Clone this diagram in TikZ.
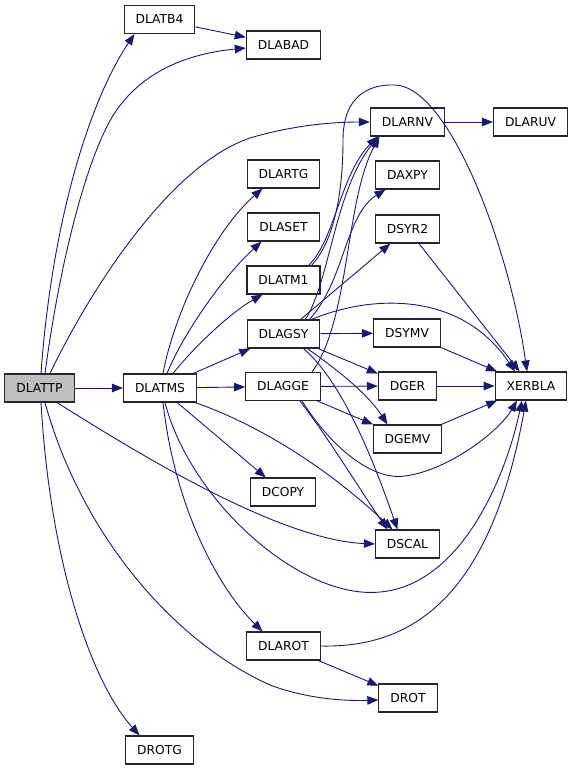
\documentclass[tikz,border=0pt]{standalone}
\usepackage{fontspec}
\setmainfont{DejaVu Sans}
\usetikzlibrary{arrows.meta}
\definecolor{edgeblue}{RGB}{25,25,112}
\definecolor{rootgray}{RGB}{191,191,191}

\begin{document}
\begin{tikzpicture}[x=1pt, y=-1pt,
  fn/.style={draw=black!85, line width=1.1pt, fill=white, minimum height=28pt, inner xsep=11.5pt,
    font=\fontsize{12.3pt}{14pt}\selectfont},
  call/.style={draw=edgeblue, line width=0.9pt, -{Triangle[length=11pt,width=8.5pt]}}]
\useasboundingbox (0,0) rectangle (573,771);

\node[fn, fill=rootgray] (tp) at (39.5,388) {DLATTP};
\node[fn] (tms) at (160,388) {DLATMS};
\node[fn] (tb4) at (159.5,19.5) {DLATB4};
\node[fn] (bad) at (283.5,45) {DLABAD};
\node[fn] (rnv) at (407.5,122) {DLARNV};
\node[fn] (ruv) at (530.5,122) {DLARUV};
\node[fn] (rtg) at (283.5,174) {DLARTG};
\node[fn] (axpy) at (407.5,175) {DAXPY};
\node[fn] (set) at (283.5,227) {DLASET};
\node[fn] (syr2) at (407.5,229) {DSYR2};
\node[fn] (tm1) at (283.5,280) {DLATM1};
\node[fn] (gsy) at (283.5,334) {DLAGSY};
\node[fn] (symv) at (407,333) {DSYMV};
\node[fn] (gge) at (283,386.5) {DLAGGE};
\node[fn] (ger) at (407.5,386) {DGER};
\node[fn] (xer) at (531,386) {XERBLA};
\node[fn] (gemv) at (407.5,439) {DGEMV};
\node[fn] (copy) at (283,492) {DCOPY};
\node[fn] (scal) at (407.5,544) {DSCAL};
\node[fn] (rot) at (283.5,646) {DLAROT};
\node[fn] (drot) at (408,698) {DROT};
\node[fn] (rotg) at (159.5,750) {DROTG};

% straight calls
\foreach \a/\b in {tp/tms, tms/gsy, tms/gge, tms/copy, tb4/bad, rnv/ruv, gsy/syr2, gsy/symv,
  gsy/ger, gge/ger, gge/gemv, symv/xer, syr2/xer, ger/xer, gemv/xer, rot/drot}
  \draw[call] (\a) -- (\b);

% DLATTP
\draw[call] ([xshift=1.5pt]tp.north) .. controls (52,220) and (90,100) .. ([xshift=-25pt]tb4.south);
\draw[call] ([xshift=5.5pt]tp.north) .. controls (60,260) and (90,140) .. (122,103)
  .. controls (155,62) and (205,52) .. ([yshift=-3pt]bad.west);
\draw[call] ([xshift=10.5pt]tp.north) .. controls (90,290) and (170,165) .. (250,138)
  .. controls (290,126) and (330,122) .. (rnv.west);
\draw[call] ([xshift=17.5pt]tp.south) .. controls (140,455) and (280,540) .. (scal.west);
\draw[call] ([xshift=5.5pt]tp.south) .. controls (80,530) and (170,640) .. (270,685)
  .. controls (310,700) and (350,701) .. ([yshift=-2pt]drot.west);
\draw[call] ([xshift=1.5pt]tp.south) .. controls (50,560) and (90,680) .. ([xshift=-20pt]rotg.north);

% DLATMS
\draw[call] ([xshift=3pt]tms.north) .. controls (175,310) and (215,230) .. ([xshift=-21pt]rtg.south);
\draw[call] ([xshift=7pt]tms.north) .. controls (185,330) and (225,275) .. ([xshift=-22pt]set.south);
\draw[call] ([xshift=13pt]tms.north) .. controls (200,340) and (235,310) .. ([xshift=-21pt]tm1.south);
\draw[call] ([xshift=35pt]tms.south) .. controls (260,425) and (330,470) .. ([xshift=-15pt]scal.north);
\draw[call] ([xshift=5pt]tms.south) .. controls (190,500) and (300,600) .. (380,592)
  .. controls (460,585) and (505,480) .. ([xshift=-9pt]xer.south);
\draw[call] ([xshift=3pt]tms.south) .. controls (175,510) and (220,590) .. ([xshift=-21pt]rot.north);

% DLATM1
\draw[call] ([xshift=25pt]tm1.north) .. controls (335,240) and (340,175) .. ([xshift=-30pt]rnv.south);
\draw[call] ([xshift=28pt]tm1.north) .. controls (335,240) and (343,190) .. (343,140)
  .. controls (343,95) and (370,84) .. (395,85)
  .. controls (450,87) and (510,250) .. ([xshift=-4pt]xer.north);

% DLAGSY
\draw[call] ([xshift=22pt]gsy.north) .. controls (330,280) and (335,190) .. ([xshift=-29pt]rnv.south);
\draw[call] ([xshift=26pt]gsy.north) .. controls (345,280) and (345,215) .. ([xshift=-22pt]axpy.south);
\draw[call] ([xshift=28pt]gsy.north) .. controls (370,295) and (460,290) .. ([xshift=-16pt]xer.north);
\draw[call] ([xshift=24pt]gsy.south) .. controls (330,365) and (365,390) .. ([xshift=-20pt]gemv.north);
\draw[call] ([xshift=20pt]gsy.south) .. controls (340,380) and (370,450) .. ([xshift=-10pt]scal.north);

% DLAGGE
\draw[call] ([xshift=29pt]gge.north) .. controls (350,320) and (345,200) .. ([xshift=-28pt]rnv.south);
\draw[call] ([xshift=17pt]gge.south) .. controls (330,440) and (360,490) .. ([xshift=-20pt]scal.north);
\draw[call] ([xshift=19pt]gge.south) .. controls (340,460) and (380,480) .. (405,476)
  .. controls (450,470) and (500,430) .. ([xshift=-14pt]xer.south);

% DLAROT
\draw[call] (rot.east) .. controls (410,648) and (490,600) .. ([xshift=-5pt]xer.south);
\end{tikzpicture}
\end{document}
